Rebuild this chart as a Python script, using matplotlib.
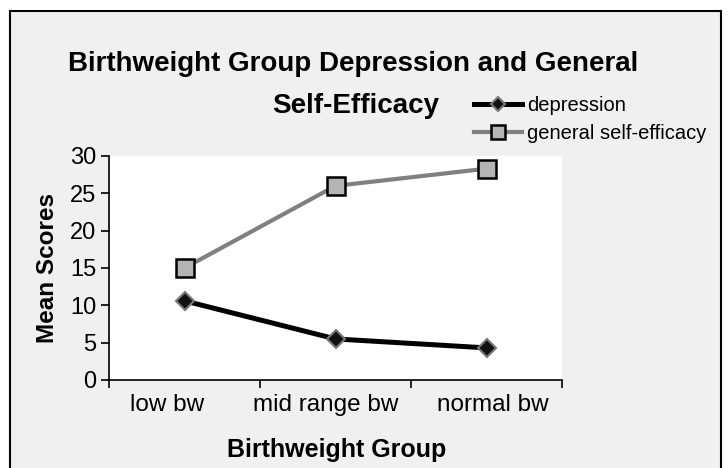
import matplotlib.pyplot as plt
import matplotlib.transforms as mtransforms
from matplotlib.patches import Rectangle
from matplotlib.lines import Line2D

groups = ["low bw", "mid range bw", "normal bw"]
depression = [10.6, 5.5, 4.3]
self_efficacy = [15.0, 26.0, 28.3]
y_ticks = [0, 5, 10, 15, 20, 25, 30]

plt.rcParams['font.family'] = ['Liberation Sans', 'DejaVu Sans']

W, H = 728, 468
fig = plt.figure(figsize=(7.28, 4.68), dpi=100)
fig.patch.set_facecolor("white")

# grey panel with black frame
fig.patches.append(Rectangle((10 / W, -0.05), 711 / W, 1.05 - 11 / H,
                             transform=fig.transFigure, facecolor="#f0f0f0",
                             edgecolor="black", linewidth=1.5, zorder=-5))

ax = fig.add_axes([109 / W, 1 - 380 / H, 453 / W, 224 / H])
ax.set_facecolor("white")
x = range(len(groups))

ax.plot(x, depression, color="black", lw=3.6, marker="D", ms=9,
        mfc="#111111", mec="#777777", mew=1.5, zorder=3, clip_on=False)
ax.plot(x, self_efficacy, color="#808080", lw=3.0, marker="s", ms=13,
        mfc="#b4b4b4", mec="black", mew=1.8, zorder=3, clip_on=False)

ax.set_xlim(-0.5, 2.5)
ax.set_ylim(0, 30)
ax.set_yticks(y_ticks)
ax.set_xticks([-0.5, 0.5, 1.5, 2.5])
ax.set_xticklabels([])
ax.set_xticks(list(x), minor=True)
ax.set_xticklabels(groups, minor=True)
ax.tick_params(axis="x", which="major", direction="out", length=6, width=1.2)
ax.tick_params(axis="x", which="minor", length=0, labelsize=17.5, pad=10)
ax.tick_params(axis="y", direction="out", length=6, width=1.2, labelsize=17, pad=3)
for s in ["top", "right"]:
    ax.spines[s].set_visible(False)
for s in ["left", "bottom"]:
    ax.spines[s].set_linewidth(1.2)

# the original labels sit a little off-centre
for lab, dx in zip(ax.get_xticklabels(minor=True), [-17, -10, 6]):
    lab.set_transform(lab.get_transform() +
                      mtransforms.ScaledTranslation(dx / 100, 0, fig.dpi_scale_trans))

ax.set_ylabel("Mean Scores", fontsize=17.5, fontweight="bold", labelpad=8)
fig.text(337 / W, 1 - 450 / H, "Birthweight Group", fontsize=18,
         fontweight="bold", ha="center", va="center")

fig.text(353 / W, 1 - 64 / H, "Birthweight Group Depression and General",
         fontsize=20, fontweight="bold", ha="center", va="center")
fig.text(356 / W, 1 - 106 / H, "Self-Efficacy",
         fontsize=20, fontweight="bold", ha="center", va="center")

handles = [
    Line2D([], [], color="black", lw=3.6, marker="D", ms=7.5,
           mfc="#111111", mec="#777777", mew=1.5),
    Line2D([], [], color="#808080", lw=3.0, marker="s", ms=10,
           mfc="#b4b4b4", mec="black", mew=1.8),
]
fig.legend(handles, ["depression", "general self-efficacy"],
           loc="upper left", bbox_to_anchor=(464 / W, 1 - 86 / H),
           frameon=False, handlelength=2.4, handletextpad=0.25,
           labelspacing=0.45, borderpad=0,
           prop={"size": 14.5})

fig.savefig("out.png", dpi=100)
